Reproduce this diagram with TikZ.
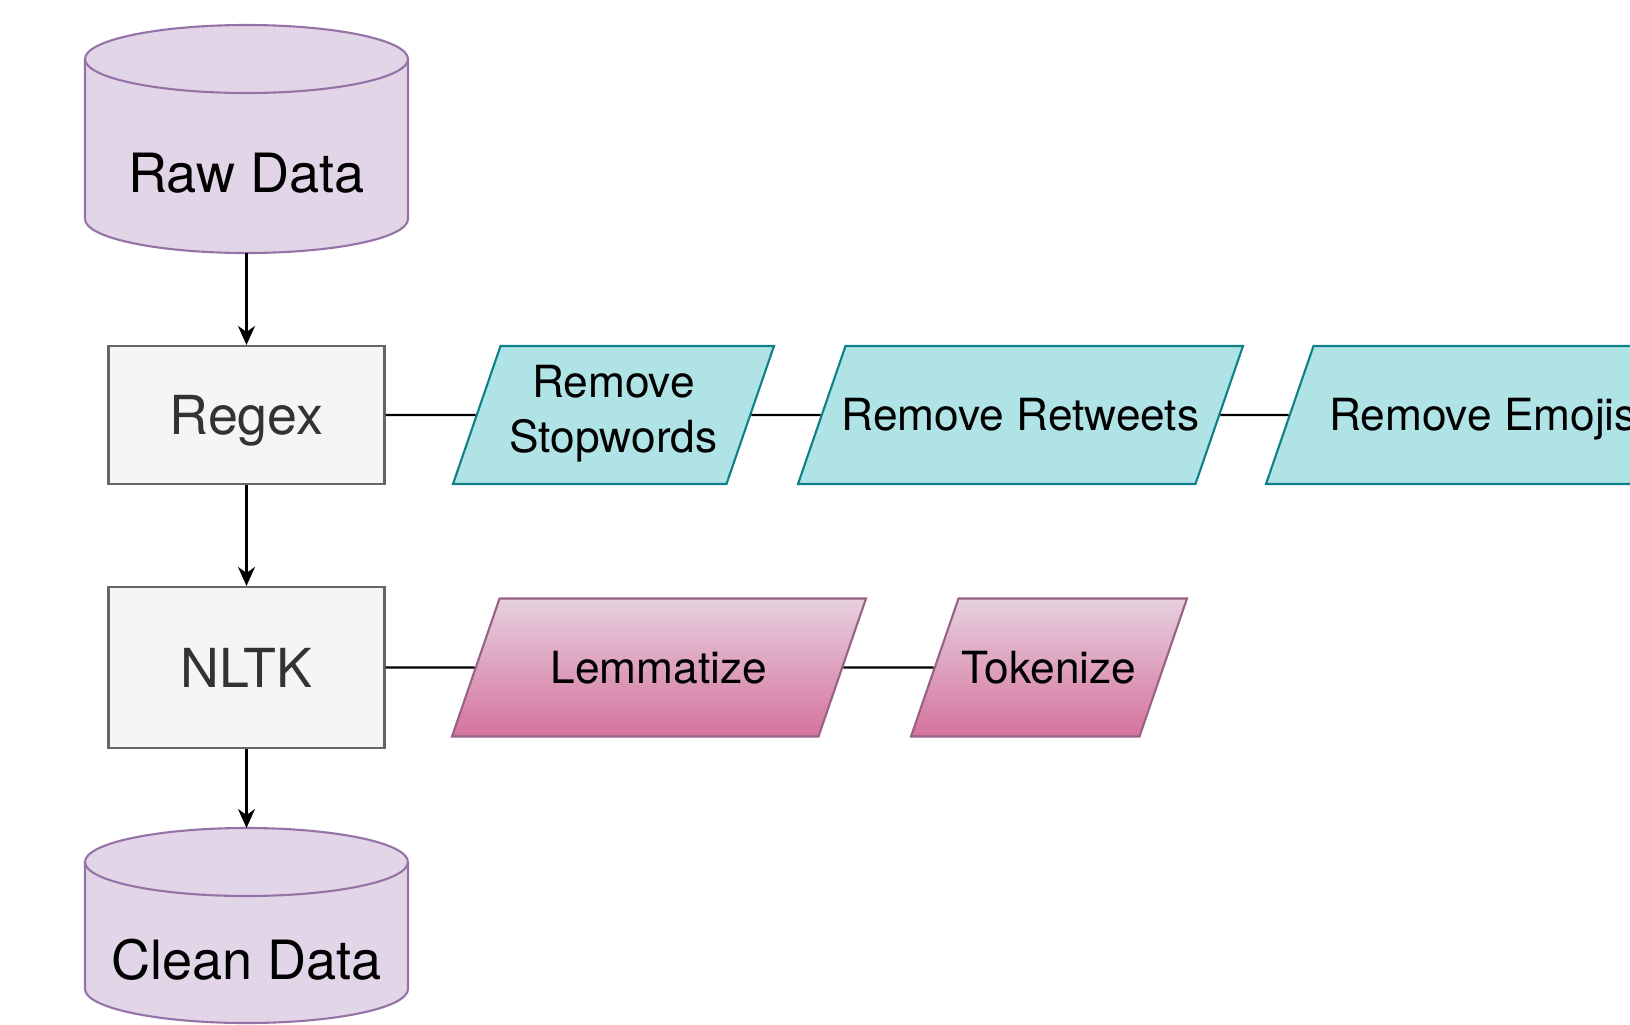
\documentclass[tikz,border=0pt]{standalone}
\usepackage{fontspec}
\setmainfont{TeX Gyre Heros}
\usetikzlibrary{math,shapes.geometric,arrows.meta}

\definecolor{dbfill}{HTML}{E1D5E7}
\definecolor{dbdraw}{HTML}{9673A6}
\definecolor{stagefill}{HTML}{F5F5F5}
\definecolor{stagedraw}{HTML}{666666}
\definecolor{stagetext}{HTML}{333333}
\definecolor{refill}{HTML}{B0E3E6}
\definecolor{redraw}{HTML}{0E8088}
\definecolor{nltktop}{HTML}{E6D0DE}
\definecolor{nltkbot}{HTML}{D5739D}
\definecolor{nltkdraw}{HTML}{996185}

\begin{document}
\begin{tikzpicture}[line width=0.6pt,
      marrow/.style={-{Stealth[length=1.9mm,width=1.7mm,inset=0.6mm]}},
      stage/.style={draw=stagedraw, fill=stagefill, text=stagetext,
        minimum width=2.76cm, text depth=0pt,
        font=\fontsize{15.3}{18}\selectfont},
      % fixed text box, so the slant of the sides comes out the same everywhere
      pstep/.style={trapezium, trapezium left angle=71, trapezium right angle=109,
        trapezium stretches body, inner sep=0pt,
        text height=0.849cm, text depth=0.531cm,
        align=center, font=\fontsize{12.6}{15.6}\selectfont},
      regexop/.style={pstep, draw=redraw, fill=refill},
      nltkop/.style={pstep, draw=nltkdraw, top color=nltktop, bottom color=nltkbot}]
    \useasboundingbox (0,0) rectangle (16.30,-10.24);
    \clip (0,0) rectangle (16.30,-10.24);
    \tikzmath{
      \cx=2.465;          % centre line of the pipeline
      \rx=1.615; \ry=0.34; % radii of the cylinder ends
    }
    % draw the two data stores
    \foreach \n/\yt/\ch/\txt in {raw/-0.25/2.28/Raw Data, clean/-8.28/1.95/Clean Data} {
        \tikzmath{\yb=\yt-\ch;}
        \filldraw[fill=dbfill, draw=dbdraw]
          (\cx-\rx,\yt-\ry) -- (\cx-\rx,\yb+\ry)
          arc[start angle=180, end angle=360, x radius=\rx cm, y radius=\ry cm]
          -- (\cx+\rx,\yt-\ry)
          arc[start angle=0, end angle=180, x radius=\rx cm, y radius=\ry cm] -- cycle;
        \draw[dbdraw] (\cx-\rx,\yt-\ry)
          arc[start angle=180, end angle=360, x radius=\rx cm, y radius=\ry cm];
        \node[font=\fontsize{15.4}{18}\selectfont] (\n) at (\cx,{(\yt-2*\ry+\yb)/2}) {\txt};
        \coordinate (\n-top) at (\cx,\yt);
        \coordinate (\n-bot) at (\cx,\yb);
    }

    % the two cleaning stages
    \node[stage, minimum height=1.38cm] (regex) at (\cx,-4.15) {Regex};
    \node[stage, minimum height=1.61cm] (nltk) at (\cx,-6.675) {NLTK};

    % what each stage does (two-line text sits on its last line)
    \node[regexop, minimum width=3.21cm, text height=1.06cm, text depth=0.32cm]
         (stopwords) at (6.135,-4.15) {Remove\\Stopwords};
    \node[regexop, minimum width=4.45cm, inner xsep=-0.05cm]
         (retweets) at (10.205,-4.15) {Remove Retweets};
    \node[regexop, minimum width=4.34cm] (emojis) at (14.83,-4.15) {Remove Emojis};
    \node[nltkop, minimum width=4.14cm] (lemmatize) at (6.59,-6.675) {Lemmatize};
    \node[nltkop, minimum width=2.76cm] (tokenize) at (10.49,-6.675) {Tokenize};

    \foreach \a/\b in {regex/stopwords, stopwords/retweets, retweets/emojis,
                       nltk/lemmatize, lemmatize/tokenize}
        \draw (\a) -- (\b);

    % main flow
    \draw[marrow] (raw-bot) -- (regex);
    \draw[marrow] (regex) -- (nltk);
    \draw[marrow] (nltk) -- (clean-top);
\end{tikzpicture}
\end{document}
